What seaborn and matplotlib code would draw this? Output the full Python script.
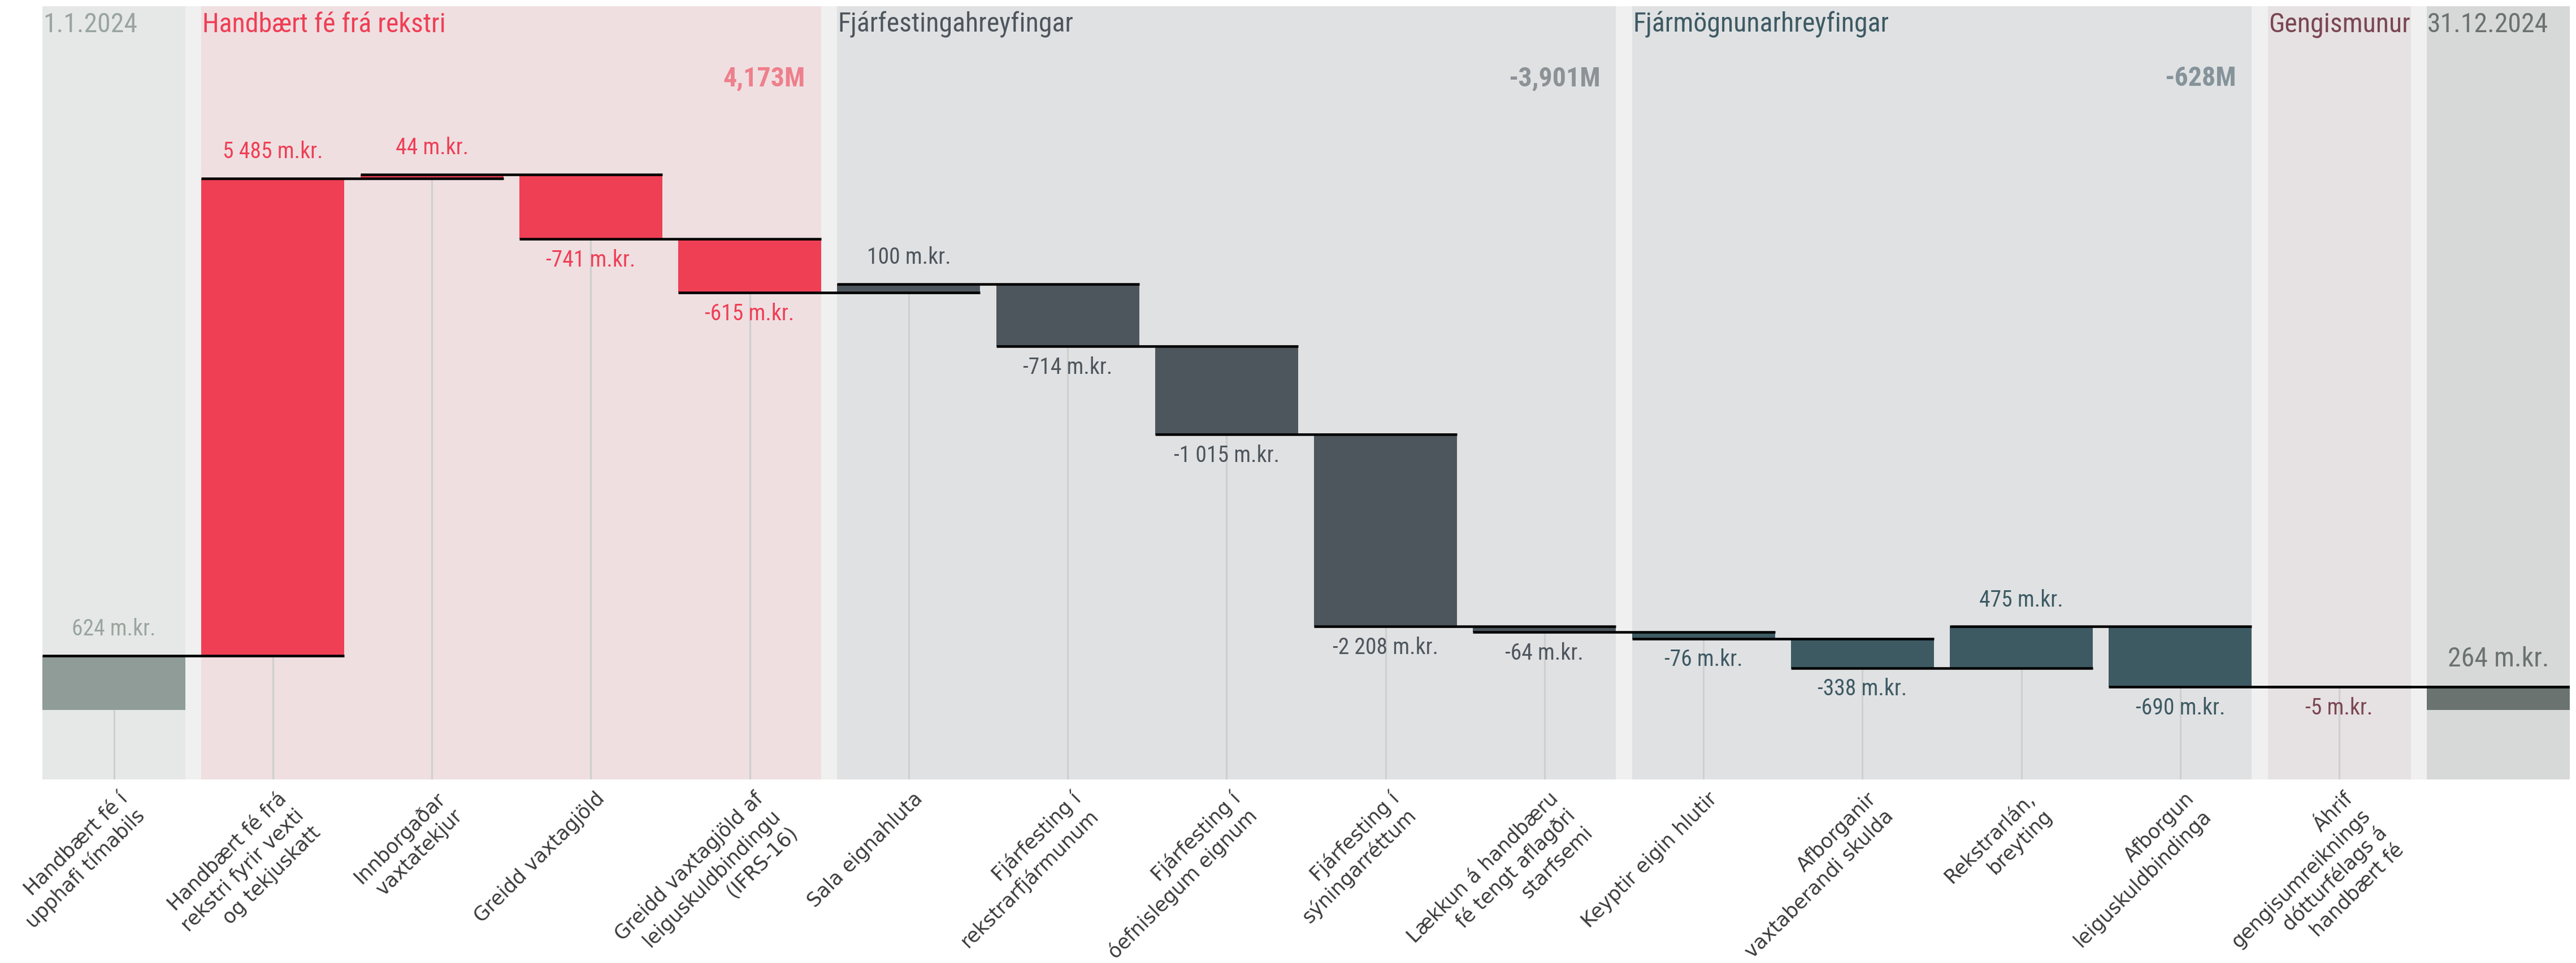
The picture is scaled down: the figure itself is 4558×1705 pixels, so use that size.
import matplotlib
matplotlib.use("Agg")
import matplotlib.pyplot as plt
import matplotlib.transforms as mtransforms
import seaborn as sns
import pandas as pd

labels = ['Handbært fé í\nupphafi tímabils',
          'Handbært fé frá\nrekstri fyrir vexti\nog tekjuskatt',
          'Innborgaðar\nvaxtatekjur',
          'Greidd vaxtagjöld',
          'Greidd vaxtagjöld af\nleiguskuldbindingu\n(IFRS-16)',
          'Sala eignahluta',
          'Fjárfesting í\nrekstrarfjármunum',
          'Fjárfesting í\nóefnislegum eignum',
          'Fjárfesting í\nsýningarréttum',
          'Lækkun á handbæru\nfé tengt aflagðri\nstarfsemi',
          'Keyptir eigin hlutir',
          'Afborganir\nvaxtaberandi skulda',
          'Rekstrarlán,\nbreyting',
          'Afborgun\nleiguskuldbindinga',
          'Áhrif\ngengisumreiknings\ndótturfélags á\nhandbært fé',
          '']
values = [624, 5485, 44, -741, -615, 100, -714, -1015, -2208, -64, -76, -338, 475, -690, -5, 264]
groups = [0, 1, 1, 1, 1, 2, 2, 2, 2, 2, 3, 3, 3, 3, 4, 5]
group_titles = ['1.1.2024', 'Handbært fé frá rekstri', 'Fjárfestingahreyfingar',
                'Fjármögnunarhreyfingar', 'Gengismunur', '31.12.2024']
group_totals = ['', '4,173M', '-3,901M', '-628M', '', '']

bar_colors = ['#8f9c97', '#ef3f55', '#4e565d', '#3d5a63', '#7a4652', '#6b7371']
text_colors = ['#9aa5a0', '#ef3f55', '#4e565d', '#3d5a63', '#7a4652', '#6b7371']
panel_colors = ['#e6e8e7', '#efdfe1', '#e0e1e3', '#e0e1e3', '#e6e1e3', '#d7d9d8']
total_colors = ['#000000', '#ee7f8b', '#8c9296', '#85939a', '#000000', '#000000']

# waterfall geometry
n = len(values)
levels, bottoms, heights = [], [], []
run = 0
for i, v in enumerate(values):
    if i == 0 or i == n - 1:
        bottoms.append(0)
        heights.append(v)
        run = v
    else:
        bottoms.append(min(run, run + v))
        heights.append(abs(v))
        run = run + v
    levels.append(run)

df = pd.DataFrame({'pos': range(n), 'height': heights, 'bottom': bottoms,
                   'group': groups})

sns.set_theme(style='white')
cond = ['Roboto Condensed', 'Liberation Sans Narrow', 'Roboto']
plt.rcParams['font.family'] = ['DejaVu Sans']

fig = plt.figure(figsize=(4558 / 300, 1705 / 300), dpi=300)
ax = fig.add_axes([61 / 4558, 1 - 1380 / 1705, (15.95 * 281.25) / 4558, 1369 / 1705])
ax.set_facecolor('white')

ax.axvspan(-0.45, n - 1 + 0.45, color='#f0f0f0', lw=0, zorder=0)
for g in range(len(group_titles)):
    idx = [i for i in range(n) if groups[i] == g]
    x0, x1 = idx[0] - 0.45, idx[-1] + 0.45
    ax.axvspan(x0, x1, color=panel_colors[g], lw=0, zorder=0.5)
    ax.text(x0 + 0.005, 0.9664, group_titles[g], transform=ax.get_xaxis_transform(),
            ha='left', va='baseline', fontsize=11.5, color=text_colors[g], family=cond)
    if group_totals[g]:
        ax.text(x1 - 0.1, 0.8968, group_totals[g], transform=ax.get_xaxis_transform(),
                ha='right', va='baseline', fontsize=11.5, fontweight='bold',
                color=total_colors[g], family=cond)

n_before = len(ax.patches)
palette = {i: bar_colors[groups[i]] for i in range(n)}
sns.barplot(data=df, x='pos', y='height', hue='pos', palette=palette, saturation=1,
            width=0.9, errorbar=None, legend=False, dodge=False, linewidth=0,
            ax=ax, zorder=3)
# float each bar onto its waterfall base
for p in ax.patches[n_before:]:
    i = int(round(p.get_x() + p.get_width() / 2))
    p.set_y(bottoms[i])
    p.set_height(heights[i])

ymin, ymax = -800, 8090
for i in range(n - 1):
    ax.vlines(i, ymin, bottoms[i], color='#cfcfcf', lw=0.75, zorder=2)

for i in range(n):
    x1 = min(i + 1, n - 1) + 0.45
    ax.hlines(levels[i], i - 0.45, x1, color='black', lw=1.1, zorder=4)

for i, v in enumerate(values):
    txt = f'{v:,} m.kr.'.replace(',', ' ')
    col = text_colors[groups[i]]
    fs = 11.5 if i == n - 1 else 9.5
    if v >= 0:
        ax.annotate(txt, (i, bottoms[i] + heights[i]), xytext=(0, 8.6), textcoords='offset points',
                    ha='center', va='baseline', fontsize=fs, color=col, family=cond, zorder=5)
    else:
        ax.annotate(txt, (i, bottoms[i]), xytext=(0, -4.3), textcoords='offset points',
                    ha='center', va='top', fontsize=fs, color=col, family=cond, zorder=5)

# rotated category labels, one text per line, right ends aligned
lab_fs = 8.4
step = 1.22 * lab_fs / 72 * 300 * 0.7071
for i, lab in enumerate(labels):
    for k, line in enumerate(lab.split('\n') if lab else []):
        tr = mtransforms.offset_copy(ax.get_xaxis_transform(), fig=fig,
                                     x=26 + k * step, y=-36 - k * step, units='dots')
        ax.text(i, 0, line, transform=tr, rotation=45, rotation_mode='anchor',
                ha='right', va='baseline', fontsize=lab_fs,
                color='#3c3c3c', family='DejaVu Sans')

ax.set_xlim(-0.5, n - 1 + 0.45)
ax.set_ylim(ymin, ymax)
ax.set_xticks([])
ax.set_yticks([])
ax.set_xlabel('')
ax.set_ylabel('')
sns.despine(ax=ax, left=True, bottom=True)

fig.savefig('out.png', dpi=300)
